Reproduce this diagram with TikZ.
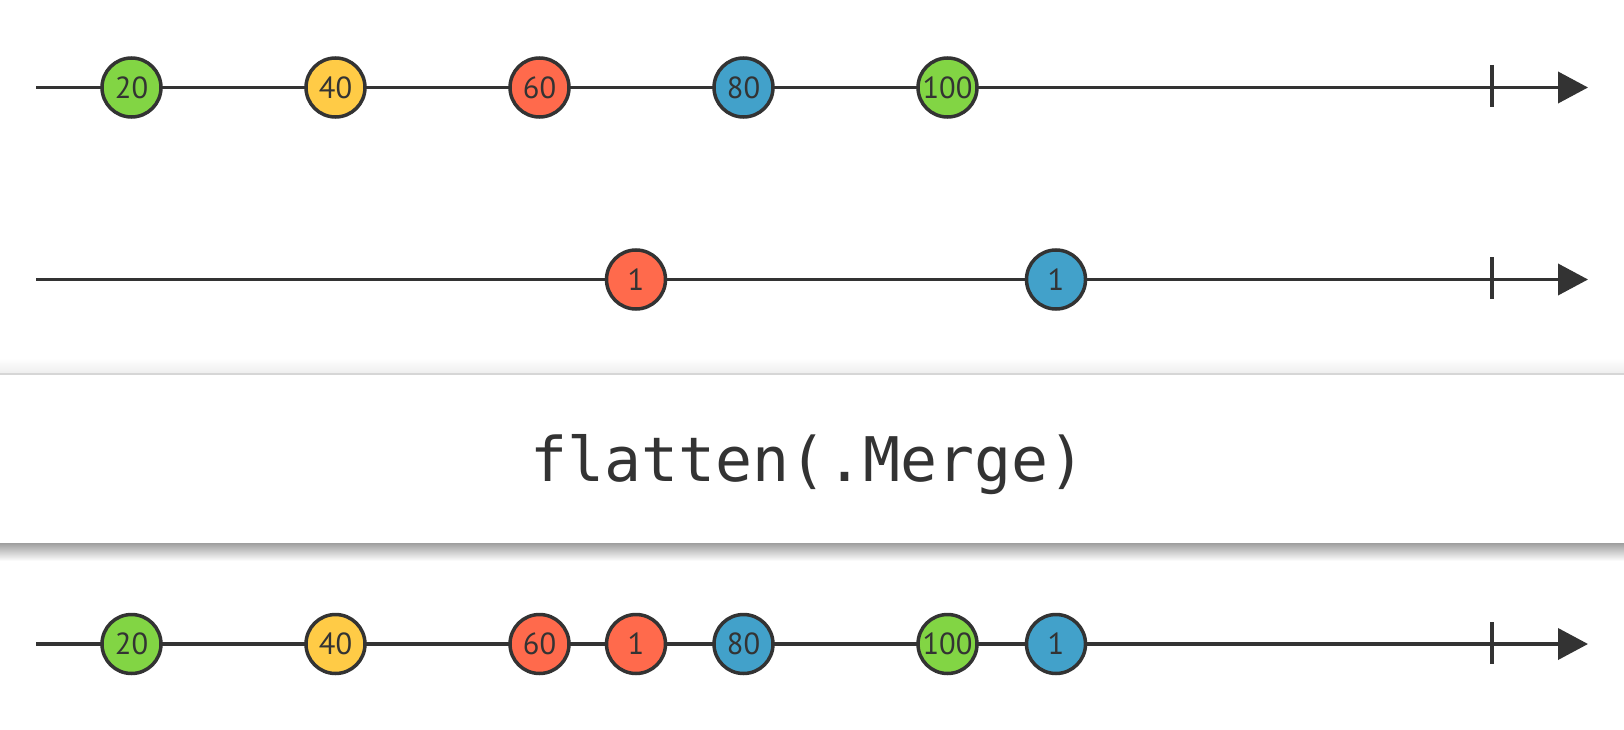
\documentclass[tikz,border=0pt]{standalone}
\usepackage{fontspec}
\setsansfont{PT Sans}
\newfontfamily\opfont{DejaVu Sans Mono}
\usetikzlibrary{arrows.meta}
\definecolor{ink}{HTML}{333333}
\definecolor{mgreen}{HTML}{82D544}
\definecolor{myellow}{HTML}{FFCB46}
\definecolor{mred}{HTML}{FF6A4C}
\definecolor{mblue}{HTML}{42A1CA}
\tikzset{
  marble/.style={circle, draw=ink, line width=3.5pt, minimum size=59pt, inner sep=0pt,
    font=\sffamily\fontsize{30.5}{30.5}\selectfont, text=ink},
  timeline/.style={draw=ink, line width=3.8pt, -{Triangle[length=30pt,width=31pt]}},
  endtick/.style={draw=ink, line width=3.4pt},
}
\begin{document}
\begin{tikzpicture}[x=1pt,y=-1pt]
\useasboundingbox (0,0) rectangle (1624,730);
\fill[white] (0,0) rectangle (1624,730);
% operator box with shadow
\shade[top color=white, bottom color=black!7] (0,358) rectangle (1624,374);
\shade[top color=black!38, bottom color=white] (0,543) rectangle (1624,561);
\fill[black!16] (0,372.5) rectangle (1624,375);
\fill[white] (0,374.5) rectangle (1624,543);
\node[font=\opfont\fontsize{61.5}{61.5}\selectfont, text=ink, anchor=base] (op) at (808,481.5) {flatten(.Merge)};

% line 1
\coordinate (s1) at (36,87.5);
\coordinate (e1) at (1588,87.5);
\draw[timeline] (s1) -- (e1);
\coordinate (t1a) at (1492,65);
\coordinate (t1b) at (1492,107);
\draw[endtick] (t1a) -- (t1b);
\node[marble, fill=mgreen] (a1) at (131.5,87.5) {20};
\node[marble, fill=myellow] (a2) at (335.5,87.5) {40};
\node[marble, fill=mred] (a3) at (539.5,87.5) {60};
\node[marble, fill=mblue] (a4) at (743.5,87.5) {80};
\node[marble, fill=mgreen] (a5) at (947.5,87.5) {100};

% line 2
\coordinate (s2) at (36,279.5);
\coordinate (e2) at (1588,279.5);
\draw[timeline] (s2) -- (e2);
\coordinate (t2a) at (1492,257);
\coordinate (t2b) at (1492,299);
\draw[endtick] (t2a) -- (t2b);
\node[marble, fill=mred] (b1) at (636,279.5) {1};
\node[marble, fill=mblue] (b2) at (1056,279.5) {1};

% line 3
\coordinate (s3) at (36,644);
\coordinate (e3) at (1588,644);
\draw[timeline] (s3) -- (e3);
\coordinate (t3a) at (1492,622);
\coordinate (t3b) at (1492,664);
\draw[endtick] (t3a) -- (t3b);
\node[marble, fill=mgreen] (c1) at (131.5,644) {20};
\node[marble, fill=myellow] (c2) at (335.5,644) {40};
\node[marble, fill=mred] (c3) at (539.5,644) {60};
\node[marble, fill=mred] (c4) at (636,644) {1};
\node[marble, fill=mblue] (c5) at (743.5,644) {80};
\node[marble, fill=mgreen] (c6) at (947.5,644) {100};
\node[marble, fill=mblue] (c7) at (1056,644) {1};
\end{tikzpicture}
\end{document}
